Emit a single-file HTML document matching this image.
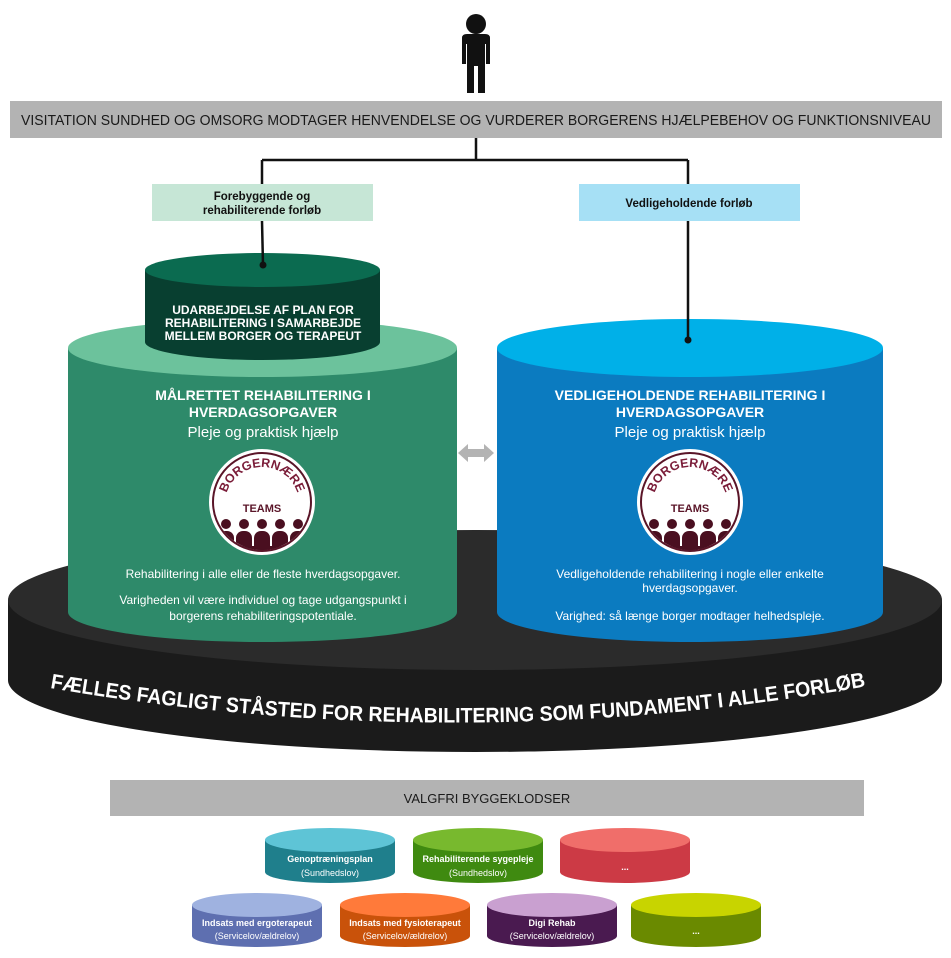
<!DOCTYPE html>
<html><head><meta charset="utf-8"><style>
html,body{margin:0;padding:0;background:#fff;}
svg{display:block;font-family:"Liberation Sans",sans-serif;}
</style></head><body>
<svg width="951" height="958" viewBox="0 0 951 958" xmlns="http://www.w3.org/2000/svg">
<g fill="#111">
<circle cx="476" cy="24" r="10"/>
<path d="M462 38 Q462 34 467 34 L485 34 Q490 34 490 38 L490 64 L486 64 L486 44 L485 44 L485 93 L478 93 L478 66 L474 66 L474 93 L467 93 L467 44 L466 44 L466 64 L462 64 Z"/>
</g>
<rect x="10" y="101" width="932" height="37" fill="#b3b3b3"/>
<text x="476" y="125" text-anchor="middle" font-size="14.5" fill="#1a1a1a" textLength="910" lengthAdjust="spacingAndGlyphs">VISITATION SUNDHED OG OMSORG MODTAGER HENVENDELSE OG VURDERER BORGERENS HJÆLPEBEHOV OG FUNKTIONSNIVEAU</text>
<g stroke="#111" stroke-width="2.5" fill="none">
<path d="M476 138 V160 M262 160 H688 M262 160 V184 M688 160 V184"/>
</g>
<rect x="152" y="184" width="221" height="37" fill="#c6e6d6"/>
<text x="262" y="200" text-anchor="middle" font-size="11.5" font-weight="bold" fill="#111">Forebyggende og</text>
<text x="262" y="214" text-anchor="middle" font-size="11.5" font-weight="bold" fill="#111">rehabiliterende forløb</text>
<rect x="579" y="184" width="221" height="37" fill="#a6e0f5"/>
<text x="689" y="207" text-anchor="middle" font-size="11.5" font-weight="bold" fill="#111">Vedligeholdende forløb</text>

<path d="M8 600 V680 A467 72 0 0 0 942 680 V600 Z" fill="#1b1b1b"/>
<ellipse cx="475" cy="600" rx="467" ry="70" fill="#2b2b2b"/>
<path id="arc" d="M50 688 Q470 760 890 682" fill="none"/>
<text font-size="21" font-weight="bold" fill="#fff"><textPath href="#arc" textLength="820" lengthAdjust="spacingAndGlyphs">FÆLLES FAGLIGT STÅSTED FOR REHABILITERING SOM FUNDAMENT I ALLE FORLØB</textPath></text>

<path d="M68 348 V612 A194.5 30 0 0 0 457 612 V348 Z" fill="#2e8a6a"/>
<ellipse cx="262.5" cy="348" rx="194.5" ry="29" fill="#6cc29c"/>
<path d="M145 270 V342 A117.5 18 0 0 0 380 342 V270 Z" fill="#083f30"/>
<ellipse cx="262.5" cy="270" rx="117.5" ry="17" fill="#0b6b50"/>
<line x1="262" y1="221" x2="263" y2="265" stroke="#111" stroke-width="2.5"/>
<circle cx="263" cy="265" r="3.5" fill="#111"/>
<g font-size="12" font-weight="bold" fill="#fff" text-anchor="middle">
<text x="263" y="314">UDARBEJDELSE AF PLAN FOR</text>
<text x="263" y="327">REHABILITERING I SAMARBEJDE</text>
<text x="263" y="340">MELLEM BORGER OG TERAPEUT</text>
</g>
<g fill="#fff" text-anchor="middle">
<text x="263" y="400" font-size="14" font-weight="bold">MÅLRETTET REHABILITERING I</text>
<text x="263" y="417" font-size="14" font-weight="bold">HVERDAGSOPGAVER</text>
<text x="263" y="437" font-size="15">Pleje og praktisk hjælp</text>
<text x="263" y="578" font-size="12">Rehabilitering i alle eller de fleste hverdagsopgaver.</text>
<text x="263" y="604" font-size="12">Varigheden vil være individuel og tage udgangspunkt i</text>
<text x="263" y="620" font-size="12">borgerens rehabiliteringspotentiale.</text>
</g>

<path d="M497 348 V612 A193 30 0 0 0 883 612 V348 Z" fill="#0b7bc0"/>
<ellipse cx="690" cy="348" rx="193" ry="29" fill="#00b0e8"/>
<line x1="688" y1="221" x2="688" y2="340" stroke="#111" stroke-width="2.5"/>
<circle cx="688" cy="340" r="3.5" fill="#111"/>
<g fill="#fff" text-anchor="middle">
<text x="690" y="400" font-size="14" font-weight="bold">VEDLIGEHOLDENDE REHABILITERING I</text>
<text x="690" y="417" font-size="14" font-weight="bold">HVERDAGSOPGAVER</text>
<text x="690" y="437" font-size="15">Pleje og praktisk hjælp</text>
<text x="690" y="578" font-size="12">Vedligeholdende rehabilitering i nogle eller enkelte</text>
<text x="690" y="592" font-size="12">hverdagsopgaver.</text>
<text x="690" y="620" font-size="12">Varighed: så længe borger modtager helhedspleje.</text>
</g>

<path d="M458 453 L468 444 V449 H484 V444 L494 453 L484 462 V457 H468 V462 Z" fill="#b3b3b3"/>

<defs>
<clipPath id="bc"><circle r="48"/></clipPath>
<g id="badge">
<circle r="53" fill="#fff"/>
<circle r="49" fill="#fff" stroke="#5a1528" stroke-width="2"/>
<path id="barc" d="M-37 2 A37 37 0 0 1 37 2" fill="none"/>
<text font-size="12.5" font-weight="bold" fill="#7a1c38"><textPath href="#barc" startOffset="50%" text-anchor="middle">BORGERNÆRE</textPath></text>
<text y="10" text-anchor="middle" font-size="11" font-weight="bold" fill="#5a1528">TEAMS</text>
<g fill="#4a0f20" clip-path="url(#bc)">
<circle cx="-36" cy="22" r="5"/><circle cx="-18" cy="22" r="5"/><circle cx="0" cy="22" r="5"/><circle cx="18" cy="22" r="5"/><circle cx="36" cy="22" r="5"/>
<rect x="-44" y="29" width="16" height="30" rx="7"/>
<rect x="-26" y="29" width="16" height="30" rx="7"/>
<rect x="-8" y="29" width="16" height="30" rx="7"/>
<rect x="10" y="29" width="16" height="30" rx="7"/>
<rect x="28" y="29" width="16" height="30" rx="7"/>
<rect x="-50" y="44" width="100" height="10"/>
</g>
</g>
</defs>
<use href="#badge" x="262" y="502"/>
<use href="#badge" x="690" y="502"/>

<rect x="110" y="780" width="754" height="36" fill="#b3b3b3"/>
<text x="487" y="803" text-anchor="middle" font-size="13" fill="#1a1a1a">VALGFRI BYGGEKLODSER</text>

<g font-size="9" font-weight="bold" fill="#fff" text-anchor="middle">
<path d="M265 840 V872 A65 11 0 0 0 395 872 V840 Z" fill="#1f7f8c"/><ellipse cx="330" cy="840" rx="65" ry="12" fill="#5ec4d6"/>
<text x="330" y="862">Genoptræningsplan</text><text x="330" y="876" font-weight="normal">(Sundhedslov)</text>
<path d="M413 840 V872 A65 11 0 0 0 543 872 V840 Z" fill="#3f8a10"/><ellipse cx="478" cy="840" rx="65" ry="12" fill="#78b92e"/>
<text x="478" y="862">Rehabiliterende sygepleje</text><text x="478" y="876" font-weight="normal">(Sundhedslov)</text>
<path d="M560 840 V872 A65 11 0 0 0 690 872 V840 Z" fill="#cc3a45"/><ellipse cx="625" cy="840" rx="65" ry="12" fill="#f06e6a"/>
<text x="625" y="870">...</text>

<path d="M192 905 V936 A65 11 0 0 0 322 936 V905 Z" fill="#5e6fb0"/><ellipse cx="257" cy="905" rx="65" ry="12" fill="#9fb2e0"/>
<text x="257" y="926">Indsats med ergoterapeut</text><text x="257" y="939" font-weight="normal">(Servicelov/ældrelov)</text>
<path d="M340 905 V936 A65 11 0 0 0 470 936 V905 Z" fill="#c9520a"/><ellipse cx="405" cy="905" rx="65" ry="12" fill="#ff7a3a"/>
<text x="405" y="926">Indsats med fysioterapeut</text><text x="405" y="939" font-weight="normal">(Servicelov/ældrelov)</text>
<path d="M487 905 V936 A65 11 0 0 0 617 936 V905 Z" fill="#4a1a50"/><ellipse cx="552" cy="905" rx="65" ry="12" fill="#c9a0d0"/>
<text x="552" y="926">Digi Rehab</text><text x="552" y="939" font-weight="normal">(Servicelov/ældrelov)</text>
<path d="M631 905 V936 A65 11 0 0 0 761 936 V905 Z" fill="#6a8a00"/><ellipse cx="696" cy="905" rx="65" ry="12" fill="#c8d400"/>
<text x="696" y="934">...</text>
</g>
</svg>
</body></html>
